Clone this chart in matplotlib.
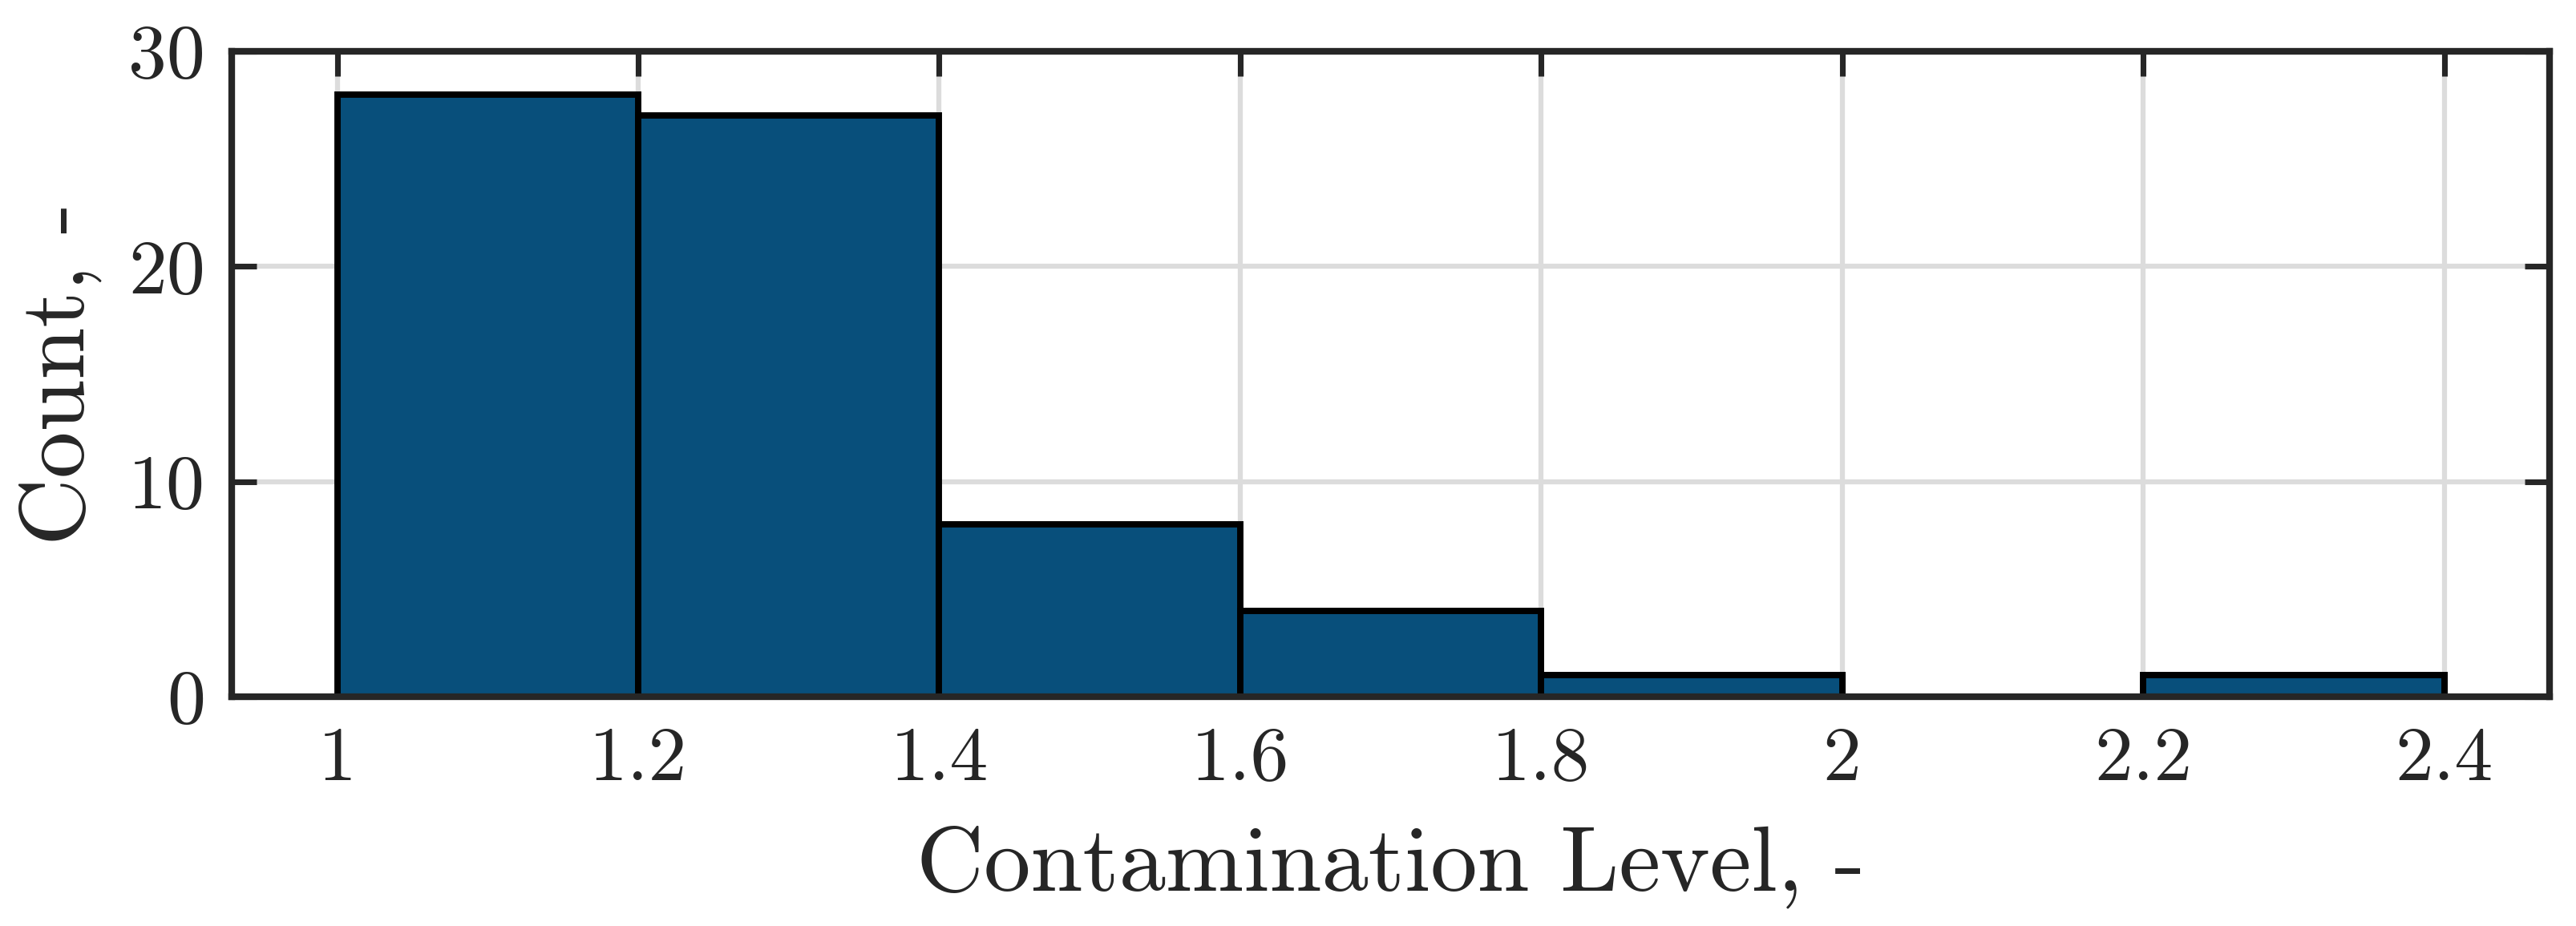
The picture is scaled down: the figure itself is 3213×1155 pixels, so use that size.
import matplotlib
matplotlib.use("Agg")
import matplotlib.pyplot as plt

bin_edges = [1.0, 1.2, 1.4, 1.6, 1.8, 2.0, 2.2, 2.4]
counts = [28, 27, 8, 4, 1, 0, 1]
x_ticks = [1, 1.2, 1.4, 1.6, 1.8, 2, 2.2, 2.4]
x_tick_labels = ["1", "1.2", "1.4", "1.6", "1.8", "2", "2.2", "2.4"]
y_ticks = [0, 10, 20, 30]
y_tick_labels = ["0", "10", "20", "30"]
x_label = "Contamination Level, -"
y_label = "Count, -"

plt.rcParams['font.family'] = ['cmr10', 'DejaVu Serif']
plt.rcParams['mathtext.fontset'] = 'cm'
plt.rcParams['axes.formatter.use_mathtext'] = True

dpi = 300
fig = plt.figure(figsize=(3213 / dpi, 1155 / dpi), dpi=dpi)
ax = fig.add_axes([0.090, 0.2476, 0.8997, 0.697])

text_color = '#262626'
widths = [bin_edges[i + 1] - bin_edges[i] for i in range(len(counts))]
ax.bar(bin_edges[:-1], counts, width=widths, align='edge',
       color='#084F7B', edgecolor='black', linewidth=1.9, zorder=2)

ax.set_xlim(0.93, 2.47)
ax.set_ylim(0, 30)
ax.set_xticks(x_ticks)
ax.set_xticklabels(x_tick_labels)
ax.set_yticks(y_ticks)
ax.set_yticklabels(y_tick_labels)

ax.grid(True, color='#dcdcdc', linewidth=1.5, zorder=0)
ax.set_axisbelow(True)

for s in ax.spines.values():
    s.set_linewidth(2.0)
    s.set_color(text_color)
    s.set_zorder(5)

ax.tick_params(axis='both', which='major', direction='in', length=7.5,
               width=1.7, color=text_color, labelcolor=text_color,
               labelsize=23, top=True, right=True)
ax.tick_params(axis='x', pad=9)
ax.tick_params(axis='y', pad=8)

ax.set_xlabel(x_label, fontsize=28, color=text_color, labelpad=9)
ax.set_ylabel(y_label, fontsize=28, color=text_color, labelpad=8)

fig.savefig("out.png", dpi=dpi)
